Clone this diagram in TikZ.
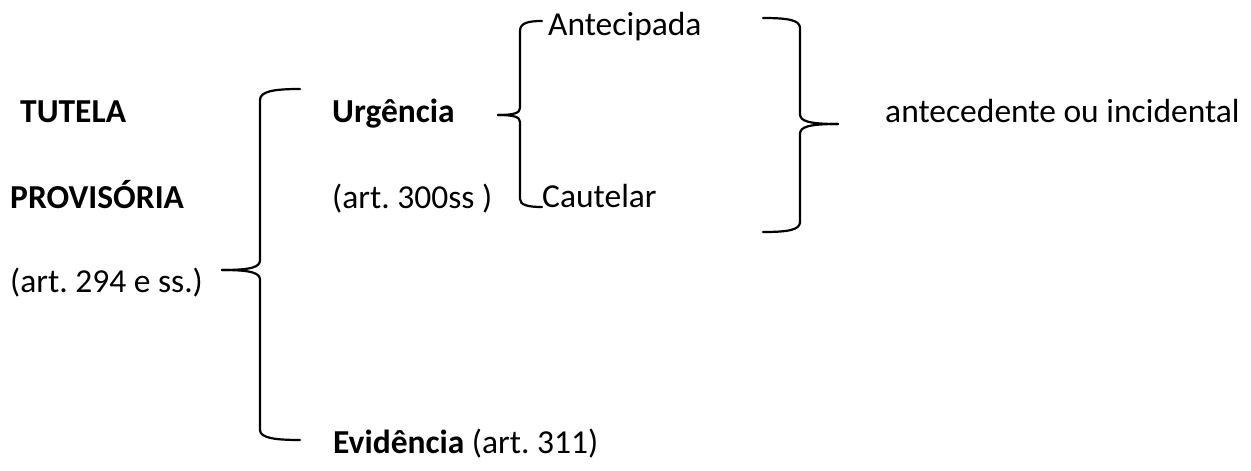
\documentclass[tikz,border=0pt]{standalone}
\usepackage{fontspec}
\setmainfont{Carlito}
\frenchspacing
\tikzset{
  chave/.style={line width=2.2pt, line cap=round, line join=round},
  texto/.style={anchor=base west, inner sep=0pt, font=\fontsize{33.5}{40}\selectfont},
  negrito/.style={texto, font=\fontsize{33.5}{40}\selectfont\bfseries},
}
\begin{document}
\begin{tikzpicture}[x=1pt,y=-1pt]
\useasboundingbox (0,0) rectangle (1251,471);
% coluna da esquerda
\node [negrito] (tutela) at (20,122) {TUTELA};
\node [negrito] (provisoria) at (10,208) {PROVISÓRIA};
\node [texto] (art294) at (10,292) {(art. 294 e ss.)};
% chave grande
\draw [chave] (300,89) .. controls (275,89) and (260,91) .. (260,100) -- (260,260) .. controls (260,267) and (252,270) .. (222,270);
\draw [chave] (222,270) .. controls (252,270) and (260,273) .. (260,280) -- (260,430) .. controls (260,438) and (275,440) .. (300,440);
\node [negrito] (urgencia) at (332,122) {Urgência};
\node [texto] (art300) at (332,208) {(art. 300ss )};
\node [texto] (evidencia) at (333,453) {\bfseries Evidência\mdseries{} (art. 311)};
% chave da urgencia
\draw [chave] (542,21) .. controls (528,21) and (520,23) .. (520,31) -- (520,108) .. controls (520,113) and (514,115) .. (498,115);
\draw [chave] (498,115) .. controls (514,115) and (520,117) .. (520,122) -- (520,199) .. controls (520,205) and (528,207) .. (542,207);
\node [texto] (antecipada) at (548,35) {Antecipada};
\node [texto] (cautelar) at (542,207) {Cautelar};
% chave da direita
\draw [chave] (763,18) .. controls (788,18) and (800,20) .. (800,28) -- (800,114) .. controls (800,121) and (808,124) .. (838,124);
\draw [chave] (838,124) .. controls (808,124) and (800,127) .. (800,134) -- (800,222) .. controls (800,230) and (788,232) .. (763,232);
\node [texto] (antecedente) at (885,122) {antecedente ou incidental};
\end{tikzpicture}
\end{document}
